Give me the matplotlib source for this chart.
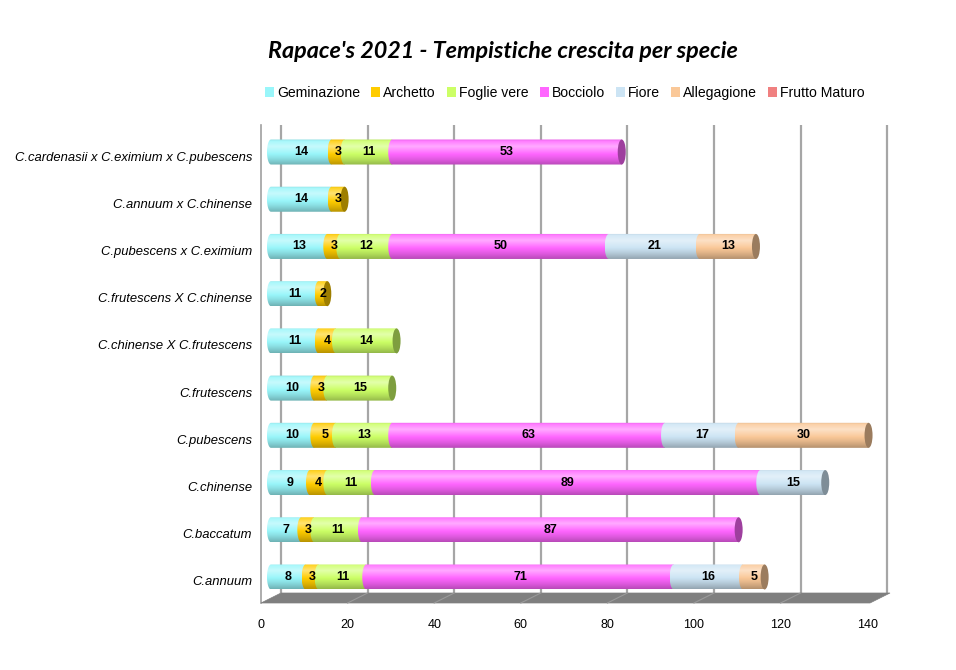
import numpy as np
import matplotlib
matplotlib.use("Agg")
import matplotlib.pyplot as plt
from matplotlib.colors import to_rgb
from matplotlib.patches import Polygon, Ellipse, Patch
from matplotlib.transforms import ScaledTranslation

# ---------------- data ----------------
categories = [
    "C.cardenasii x C.eximium x C.pubescens",
    "C.annuum x C.chinense",
    "C.pubescens x C.eximium",
    "C.frutescens X C.chinense",
    "C.chinense X C.frutescens",
    "C.frutescens",
    "C.pubescens",
    "C.chinense",
    "C.baccatum",
    "C.annuum",
]
series_names = ["Geminazione", "Archetto", "Foglie vere", "Bocciolo",
                "Fiore", "Allegagione", "Frutto Maturo"]
geminazione = [14, 14, 13, 11, 11, 10, 10, 9, 7, 8]
archetto = [3, 3, 3, 2, 4, 3, 5, 4, 3, 3]
foglie_vere = [11, 0, 12, 0, 14, 15, 13, 11, 11, 11]
bocciolo = [53, 0, 50, 0, 0, 0, 63, 89, 87, 71]
fiore = [0, 0, 21, 0, 0, 0, 17, 15, 0, 16]
allegagione = [0, 0, 13, 0, 0, 0, 30, 0, 0, 5]
frutto_maturo = [0, 0, 0, 0, 0, 0, 0, 0, 0, 0]
x_ticks = [0, 20, 40, 60, 80, 100, 120, 140]
title = "Rapace's 2021 - Tempistiche crescita per specie"

series_values = [geminazione, archetto, foglie_vere, bocciolo,
                 fiore, allegagione, frutto_maturo]
colors = ["#99F6FA", "#FFCC00", "#CCFF66", "#FF66FF",
          "#CCE4F4", "#FAC898", "#F08080"]

# ---------------- layout helpers ----------------
W, H = 956, 670
fig = plt.figure(figsize=(W / 100, H / 100), dpi=100)
fig.patch.set_facecolor("white")


def fx(px):
    return px / W


def fy(py):
    return 1 - py / H


plt.rcParams["font.family"] = ["Liberation Sans", "DejaVu Sans"]

ax_left, ax_right, ax_top, ax_bot = 261, 892, 125, 603
zero_px = 271
scale = 4.33  # px per unit
ax = fig.add_axes([fx(ax_left), fy(ax_bot), fx(ax_right) - fx(ax_left),
                   (ax_bot - ax_top) / H])
ax.set_xlim(-(zero_px - ax_left) / scale, (ax_right - zero_px) / scale)
n = len(categories)
spacing = 47.2
ax.set_ylim(-(ax_bot - 577) / spacing, (n - 1) + (152 - ax_top) / spacing)
ax.set_facecolor("none")
for s in ["top", "right", "bottom"]:
    ax.spines[s].set_visible(False)
ax.spines["left"].set_color("#A0A0A0")
ax.spines["left"].set_linewidth(1.2)

ypos = [n - 1 - i for i in range(n)]

# back-wall grid lines (shifted back in depth)
back = ScaledTranslation(10 / 100, 0, fig.dpi_scale_trans)
front = ScaledTranslation(-10 / 100, 0, fig.dpi_scale_trans)
floor_back_frac = (ax_bot - 593) / (ax_bot - ax_top)
ax.vlines(x_ticks, floor_back_frac, 1.0,
          transform=ax.get_xaxis_transform() + back,
          colors="#A6A6A6", linewidth=1.6, zorder=0, clip_on=False)

# floor
floor = Polygon([(fx(261), fy(603)), (fx(281), fy(593)),
                 (fx(890), fy(593)), (fx(870), fy(603))],
                closed=True, transform=fig.transFigure,
                facecolor="#7F7F7F", edgecolor="#7F7F7F", linewidth=0.5,
                zorder=0)
fig.patches.append(floor)
# floor divisions
fig.canvas.draw()
for t in x_ticks[1:-1]:
    xb = ax.transData.transform((t, 0))[0] + 10
    xf = ax.transData.transform((t, 0))[0] - 10
    fig.add_artist(plt.Line2D([xb / W, xf / W], [fy(593), fy(603)],
                              transform=fig.transFigure,
                              color="#9A9A9A", linewidth=0.8, zorder=1))


# ---------------- cylinders ----------------
def gradient(color, m=80):
    rgb = np.array(to_rgb(color))
    t = np.linspace(0, 1, m)
    light = np.clip(1 - np.abs(t - 0.28) / 0.3, 0, 1) * 0.45
    dark = np.clip((t - 0.55) / 0.45, 0, 1) ** 1.3 * 0.28
    topdark = np.clip((0.07 - t) / 0.07, 0, 1) * 0.12
    c = rgb[None, :] * (1 - dark - topdark)[:, None]
    c = c + (1 - c) * light[:, None]
    return np.clip(c, 0, 1)[:, None, :]


bar_h = 25 / spacing
cap_w = 8 / scale

for ci, y in enumerate(ypos):
    left = 0.0
    segs = []
    for si, vals in enumerate(series_values):
        v = vals[ci]
        if v <= 0:
            continue
        segs.append((si, left, v))
        left += v
    for k, (si, l, v) in enumerate(segs):
        r = l + v
        a = cap_w / 2
        b = bar_h / 2
        ang = np.linspace(np.pi / 2, 3 * np.pi / 2, 40)
        pts = [(l + a * np.cos(t_), y + b * np.sin(t_)) for t_ in ang]
        pts += [(r, y - b), (r, y + b)]
        clip = Polygon(pts, closed=True, transform=ax.transData,
                       facecolor="none", edgecolor="none")
        ax.add_patch(clip)
        im = ax.imshow(gradient(colors[si]), extent=(l - a, r, y - b, y + b),
                       origin="upper", aspect="auto", interpolation="bilinear",
                       zorder=2 + k * 0.01)
        im.set_clip_path(clip)
    if segs:
        si, l, v = segs[-1]
        capc = np.array(to_rgb(colors[si])) * 0.62
        ax.add_patch(Ellipse((l + v, y), cap_w, bar_h, facecolor=capc,
                             edgecolor="none", zorder=3))
    for si, l, v in segs:
        ax.text(l + v / 2, y, str(v), ha="center", va="center",
                fontsize=9, fontweight="bold", color="black", zorder=5)

ax.set_aspect("auto")
ax.set_xlim(-(zero_px - ax_left) / scale, (ax_right - zero_px) / scale)
ax.set_ylim(-(ax_bot - 577) / spacing, (n - 1) + (152 - ax_top) / spacing)

# ---------------- ticks ----------------
ax.set_xticks(x_ticks)
ax.set_xticklabels([str(t) for t in x_ticks], fontsize=9)
ax.tick_params(axis="x", length=0, pad=11.5)
for lab in ax.get_xticklabels():
    lab.set_transform(lab.get_transform() + front)

ax.set_yticks(ypos)
ax.set_yticklabels(categories, fontsize=9.4, style="italic")
ax.tick_params(axis="y", length=0, pad=6.5)
down = ScaledTranslation(0, -4 / 100, fig.dpi_scale_trans)
for lab in ax.get_yticklabels():
    lab.set_transform(lab.get_transform() + down)

# ---------------- title & legend ----------------
fig.text(fx(503), fy(52), title, ha="center", va="center",
         fontsize=16.8, fontweight="bold", style="italic",
         family=["Lato", "DejaVu Sans"])

handles = [Patch(facecolor=c, edgecolor="none") for c in colors]
fig.legend(handles, series_names, loc="center", ncol=7,
           bbox_to_anchor=(fx(565), fy(93)), frameon=False, fontsize=10.1,
           handlelength=0.65, handleheight=0.65, handletextpad=0.2,
           columnspacing=0.8, borderpad=0)

fig.savefig("out.png", dpi=100, facecolor="white")
